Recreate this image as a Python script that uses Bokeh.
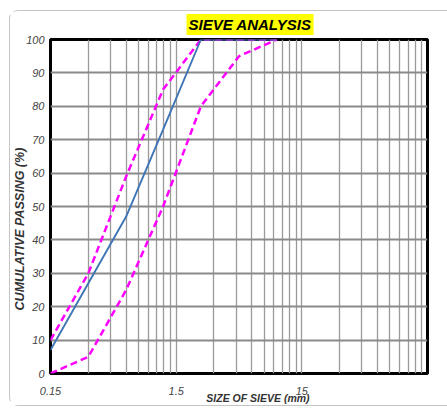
from bokeh.plotting import figure
from bokeh.models import FixedTicker, Range1d, Title
from bokeh.embed import file_html
from bokeh.resources import INLINE

# ---- data ----
sieve_sizes = [0.15, 0.3, 0.6, 1.18, 2.36, 4.75, 9.5]
passing = [7, 27, 47, 73, 100, 100, 100]
upper_limit = [10, 30, 59, 85, 100, 100, 100]
lower_limit = [0, 5, 25, 50, 80, 95, 100]

y_ticks = [0, 10, 20, 30, 40, 50, 60, 70, 80, 90, 100]
x_major_ticks = [0.15, 1.5, 15]
x_tick_labels = ["0.15", "1.5", "15"]
x_start, x_end = 0.15, 150

FONT = "Liberation Sans"
NB = "\u00a0"

p = figure(width=438, height=396, x_axis_type="log",
           x_range=Range1d(x_start, x_end), y_range=Range1d(0, 100),
           output_backend="svg", toolbar_location=None,
           min_border_left=39, min_border_right=21,
           min_border_top=28, min_border_bottom=34,
           margin=(10, 0, 0, 9))
p.styles = {"border-left": "1px solid #c4c4c4", "border-top": "1px solid #c4c4c4",
            "border-bottom": "1px solid #c4c4c4",
            "border-radius": "9px 0 0 9px", "box-sizing": "border-box"}

# title
p.title = Title(text="SIEVE ANALYSIS", align="left", offset=136, standoff=5,
                vertical_align="top",
                text_font=FONT, text_font_style="bold italic", text_font_size="15px",
                text_color="black", background_fill_color="#ffff00", padding=2)

# grid
minor = [b * k for b in x_major_ticks + [150] for k in range(2, 10) if b * k < x_end]
p.xaxis.ticker = FixedTicker(ticks=x_major_ticks, minor_ticks=minor)
p.yaxis.ticker = FixedTicker(ticks=y_ticks)
p.xgrid.grid_line_color = "#9a9a9a"
p.xgrid.grid_line_width = 1.3
p.xgrid.minor_grid_line_color = "#9a9a9a"
p.xgrid.minor_grid_line_width = 1.3
p.ygrid.grid_line_color = "#8a8a8a"
p.ygrid.grid_line_width = 1.8

# axes styling
for ax in (p.xaxis[0], p.yaxis[0]):
    ax.axis_line_color = None
    ax.major_tick_line_color = None
    ax.minor_tick_line_color = None
    ax.major_tick_out = 0
    ax.major_tick_in = 0
    ax.minor_tick_out = 0
    ax.minor_tick_in = 0
    ax.major_label_text_font = FONT
    ax.major_label_text_font_style = "italic"
    ax.major_label_text_font_size = "11px"
    ax.major_label_text_color = "#444444"
    ax.axis_label_text_font = FONT
    ax.axis_label_text_font_style = "bold italic"
    ax.axis_label_text_color = "#333333"
p.xaxis.axis_label_text_font_size = "10.5px"
p.yaxis.axis_label_text_font_size = "12.5px"
p.xaxis.major_label_overrides = {t: s for t, s in zip(x_major_ticks, x_tick_labels)}
p.xaxis.major_label_standoff = 13
p.yaxis.major_label_standoff = 6
p.xaxis.axis_label = NB * 13 + "SIZE OF SIEVE (mm)"
p.xaxis.axis_label_standoff = -6
p.yaxis.axis_label = "CUMULATIVE PASSING (%)" + NB * 13
p.yaxis.axis_label_standoff = -4

p.outline_line_color = "black"
p.outline_line_width = 3
p.background_fill_color = "white"
p.border_fill_color = "white"

# series
p.line(sieve_sizes, upper_limit, line_color="#ff00ff", line_width=2.5, line_dash="7 4")
p.line(sieve_sizes, lower_limit, line_color="#ff00ff", line_width=2.5, line_dash="7 4")
p.line(sieve_sizes, passing, line_color="#3f74b5", line_width=1.9)

open("out.html", "w").write(file_html(p, INLINE))
